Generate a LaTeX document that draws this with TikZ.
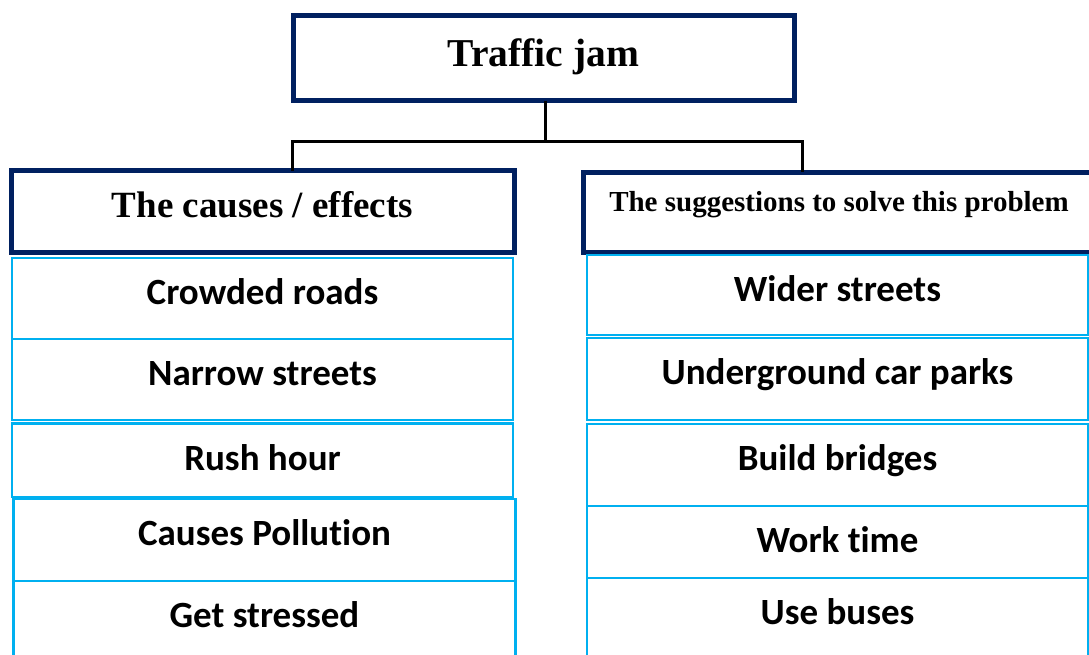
\documentclass[tikz,border=0pt]{standalone}
\usepackage{fontspec}
\setmainfont{Liberation Serif}
\newfontfamily\cellfont[Ligatures=NoCommon]{Carlito}
\definecolor{head_color}{HTML}{002060}
\definecolor{cell_color}{HTML}{00B0F0}

\begin{document}
\begin{tikzpicture}[x=1pt, y=-1pt,
    headbox/.style={draw=head_color, line width=5pt, anchor=north, outer sep=0pt,
      inner ysep=0pt, font=\bfseries},
    cellbox/.style={draw=cell_color, line width=2.5pt, anchor=north, outer sep=0pt,
      minimum width=501pt, inner ysep=0pt, text height=46.5pt, text depth=#1,
      font=\cellfont\bfseries\fontsize{37}{42}\selectfont},
    cellbox/.default=34.5pt,
    linkline/.style={line width=3pt}]
        \useasboundingbox (0,0) rectangle (1089,655);
        \node[headbox, minimum width=501pt, text height=51pt, text depth=34pt,
          font=\bfseries\fontsize{39.5}{44}\selectfont] (top) at (543.5,16) {Traffic jam};
        \node[headbox, minimum width=503pt, text height=47pt, text depth=34pt,
          font=\bfseries\fontsize{37}{42}\selectfont] (lhead) at (262.5,171) {The causes / effects};
        \node[headbox, minimum width=512pt, text height=39pt, text depth=41pt,
          font=\bfseries\fontsize{29}{34}\selectfont] (rhead) at (839,172.5) {The suggestions to solve this problem};
        \node[cellbox] (l1) at (262.5,258) {Crowded roads};
        \node[cellbox] (l2) at (262.5,339) {Narrow streets};
        \node[cellbox=27pt] (l3) at (262.5,423.5) {Rush hour};
        \node[cellbox=35.5pt, minimum width=502pt] (l4) at (264.5,499) {Causes Pollution};
        \node[cellbox=35.5pt, minimum width=502pt] (l5) at (264.5,581) {Get stressed};
        \node[cellbox=33.5pt] (r1) at (837.5,255) {Wider streets};
        \node[cellbox=35.5pt] (r2) at (837.5,338) {Underground car parks};
        \node[cellbox=35.5pt] (r3) at (837.5,424) {Build bridges};
        \node[cellbox=25.5pt] (r4) at (837.5,506) {Work time};
        \node[cellbox=35.5pt] (r5) at (837.5,578) {Use buses};
        \coordinate (fork) at (545,142);
        \coordinate (forkL) at (292,142);
        \coordinate (forkR) at (802,142);
        \draw[linkline] (top.south -| fork) -- (fork);
        \draw[linkline] (forkL |- lhead.north) -- (forkL) -- (forkR) -- (forkR |- rhead.north);
\end{tikzpicture}
\end{document}
